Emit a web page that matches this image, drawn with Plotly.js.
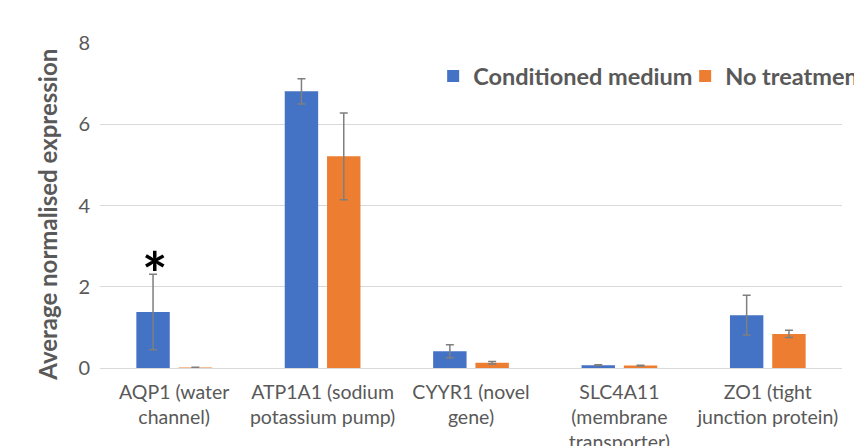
<!DOCTYPE html>
<html>
<head>
<meta charset="utf-8">
<script src="https://cdn.plot.ly/plotly-3.0.1.min.js"></script>
<style>html,body{margin:0;padding:0;background:#fff;}#chart{width:854px;height:446px;}</style>
</head>
<body>
<div id="chart"></div>
<script>
const categories = [
  "AQP1 (water<br>channel)",
  "ATP1A1 (sodium<br>potassium pump)",
  "CYYR1 (novel<br>gene)",
  "SLC4A11<br>(membrane<br>transporter)",
  "ZO1 (tight<br>junction protein)"
];
const seriesNames = ["Conditioned medium", "No treatment"];
const conditioned = [1.38, 6.81, 0.41, 0.07, 1.30];
const conditionedErr = [0.93, 0.31, 0.16, 0.01, 0.49];
const noTreatment = [0.01, 5.21, 0.13, 0.06, 0.84];
const noTreatmentErr = [0.01, 1.07, 0.03, 0.01, 0.09];
const yTicks = [0, 2, 4, 6, 8];
const significance = {category: categories[0], value: conditioned[0] + conditionedErr[0], label: "*"};

const grey = "#595959";
const errStyle = {type: "data", visible: true, color: "#7f7f7f", thickness: 1.5, width: 4};

const traces = [
  {type: "bar", name: seriesNames[0], x: categories, y: conditioned,
   error_y: Object.assign({array: conditionedErr}, errStyle),
   marker: {color: "#4472C4"}},
  {type: "bar", name: seriesNames[1], x: categories, y: noTreatment,
   error_y: Object.assign({array: noTreatmentErr}, errStyle),
   marker: {color: "#ED7D31"}}
];

const layout = {
  width: 854, height: 446,
  margin: {l: 100, r: 12, t: 43, b: 78, autoexpand: false},
  paper_bgcolor: "#ffffff", plot_bgcolor: "#ffffff",
  font: {family: "Lato, 'Open Sans', sans-serif", color: grey, size: 19},
  barmode: "group", bargap: 0.43, bargroupgap: 0.21,
  showlegend: true,
  legend: {orientation: "h", x: 0.449, y: 0.898, xanchor: "left", yanchor: "middle",
           entrywidth: 207, entrywidthmode: "pixels",
           font: {size: 23.5, color: grey, weight: "bold"}, bgcolor: "rgba(0,0,0,0)"},
  xaxis: {type: "category", showgrid: false, zeroline: false, showline: false, ticks: "",
          ticklabelstandoff: 10,
          tickfont: {size: 19.5, color: grey}, tickangle: 0},
  yaxis: {range: [0, 8], tickvals: yTicks, ticktext: yTicks.map(String), showgrid: true,
          gridcolor: "#d9d9d9", gridwidth: 1, zeroline: true, zerolinecolor: "#d9d9d9", zerolinewidth: 1,
          showline: false, ticks: "", ticklabelstandoff: 9,
          tickfont: {size: 20, color: grey},
          title: {text: "Average normalised expression&nbsp;&nbsp;&nbsp;", font: {size: 24, color: grey, weight: "bold"}, standoff: 13}},
  annotations: [{x: significance.category, y: significance.value, xref: "x", yref: "y",
                 text: significance.label, showarrow: false, xshift: -19, yshift: 1,
                 font: {size: 60, color: "#000000", family: "Lato, sans-serif", weight: "bold"}}]
};

Plotly.newPlot("chart", traces, layout, {displayModeBar: false, staticPlot: true});
</script>
</body>
</html>
